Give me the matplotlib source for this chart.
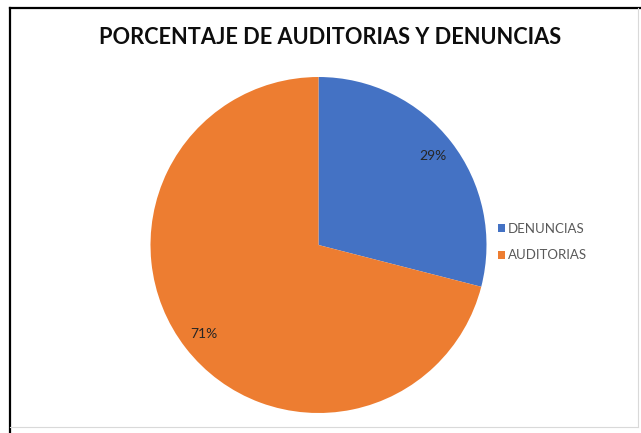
import matplotlib
matplotlib.use("Agg")
import matplotlib.pyplot as plt
from matplotlib.patches import Patch
from matplotlib.lines import Line2D

# Data
labels = ['DENUNCIAS', 'AUDITORIAS']
values = [29, 71]
colors = ['#4472C4', '#ED7D31']
title = 'PORCENTAJE DE AUDITORIAS Y DENUNCIAS'

plt.rcParams['font.family'] = ['Lato', 'DejaVu Sans']

W, H = 641, 433
fig = plt.figure(figsize=(W / 100, H / 100), dpi=100)
fig.patch.set_facecolor('white')

# pie axes (center ~ (318, 245) px, radius ~168 px)
cx, cy, r = 318.5, 245, 168
ax = fig.add_axes([(cx - r) / W, (H - cy - r) / H, 2 * r / W, 2 * r / H])
wedges, texts, autotexts = ax.pie(values, colors=colors, startangle=90,
                                  counterclock=False, autopct='%1.0f%%',
                                  pctdistance=0.86, radius=1,
                                  textprops={'fontsize': 10, 'color': '#262626'})
ax.set_xlim(-1, 1)
ax.set_ylim(-1, 1)
ax.set_aspect('equal')
ax.axis('off')

fig.text(330 / W, 1 - 37 / H, title, ha='center', va='center',
         fontsize=15.7, fontweight='bold', color='#0d0d0d')

handles = [Patch(facecolor=c, edgecolor='none') for c in colors]
fig.legend(handles, labels, loc='center left',
           bbox_to_anchor=(491 / W, 1 - 242 / H), frameon=False,
           handlelength=0.55, handleheight=0.55, handletextpad=0.25,
           labelspacing=1.1, borderpad=0, fontsize=9.5, labelcolor='#595959')

# chart border: dark left/top, light right/bottom
fig.add_artist(Line2D([10 / W, 10 / W], [0, 1 - 8 / H], color='black', lw=1.6))
fig.add_artist(Line2D([10 / W, 1], [1 - 8 / H, 1 - 8 / H], color='black', lw=1.6))
fig.add_artist(Line2D([10 / W, 638 / W], [1 - 427 / H, 1 - 427 / H], color='#d9d9d9', lw=0.8))
fig.add_artist(Line2D([638 / W, 638 / W], [1 - 427 / H, 1 - 8 / H], color='#d9d9d9', lw=0.8))

fig.savefig('out.png', dpi=100)
